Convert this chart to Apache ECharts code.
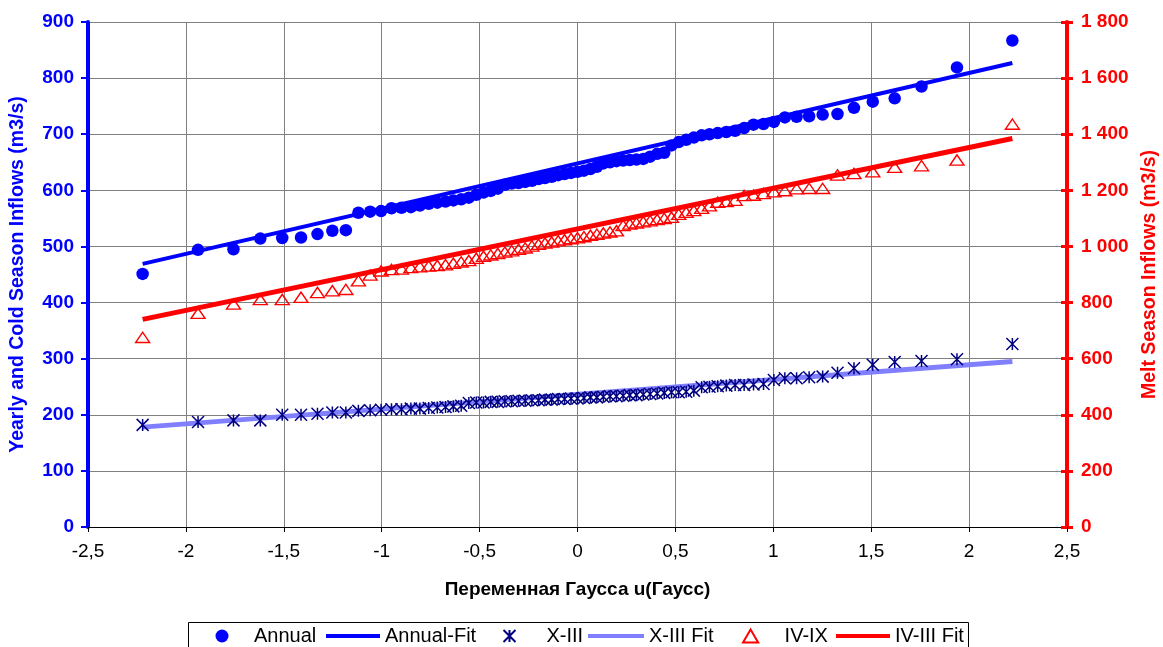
<!DOCTYPE html>
<html>
<head>
<meta charset="utf-8">
<script src="https://cdn.jsdelivr.net/npm/echarts@6/dist/echarts.min.js"></script>
<style>
html,body{margin:0;padding:0;background:#fff;}
#chart{width:1163px;height:647px;}
</style>
</head>
<body>
<div id="chart"></div>
<script>
// Gauss variable (plotting positions)
const uValues = [-2.221,-1.938,-1.757,-1.620,-1.508,-1.412,-1.328,-1.252,-1.183,-1.119,-1.059,-1.003,-0.950,-0.899,-0.851,-0.805,-0.760,-0.716,-0.674,-0.634,-0.594,-0.555,-0.517,-0.480,-0.443,-0.407,-0.371,-0.336,-0.301,-0.267,-0.233,-0.199,-0.166,-0.132,-0.099,-0.066,-0.033,0,
0.033,0.066,0.099,0.132,0.166,0.199,0.233,0.267,0.301,0.336,0.371,0.407,0.443,0.480,0.517,0.555,0.594,0.634,0.674,0.716,0.760,0.805,0.851,0.899,0.950,1.003,1.059,1.119,1.183,1.252,1.328,1.412,1.508,1.620,1.757,1.938,2.221];
const annual = [451,494,495,514,515,516,522,528,529,560,562,563,568,569,570,573,576,578,580,582,584,587,592,596,599,603,610,612,613,615,617,620,622,624,627,629,631,633,635,638,642,648,650,652,653,654,655,656,660,665,667,680,686,690,694,698,700,702,704,706,711,717,718,722,730,731,732,735,736,747,758,764,785,819,867];
const xiii = [182,187,190,190,200,200,202,204,204,207,208,209,210,210,211,211,212,213,214,215,216,221,222,222,223,223,224,224,225,225,226,226,227,227,228,228,229,229,230,231,231,232,233,233,234,235,235,236,237,238,239,240,240,241,243,249,250,251,252,253,253,254,255,262,265,265,267,268,275,283,289,294,296,299,326];
const ivix = [676,762,795,811,811,819,836,842,847,878,898,913,918,920,925,928,930,932,935,940,945,950,958,965,970,975,980,985,990,995,1002,1008,1012,1016,1020,1024,1028,1031,1035,1040,1044,1048,1052,1056,1075,1080,1084,1088,1092,1096,1100,1104,1115,1122,1128,1136,1145,1158,1160,1165,1182,1183,1189,1195,1199,1206,1207,1207,1255,1260,1266,1282,1288,1308,1436];
// Fitted lines (end points)
const fitU = [-2.221, 2.221];
const annualFit = [469, 827];
const xiiiFit = [178, 295];
const ivFit = [740, 1385];

const seriesNames = ['Annual','Annual-Fit','X-III','X-III Fit','IV-IX','IV-III Fit'];
const xAxisTitle = 'Переменная Гаусса u(Гаусс)';
const yLeftTitle = 'Yearly and Cold Season Inflows (m3/s)';
const yRightTitle = 'Melt Season Inflows (m3/s)';

const FONT = 'Liberation Sans, Arial, sans-serif';
const zip = (xs, ys) => xs.map((x, i) => [x, ys[i]]);
const starPath = 'path://M0,0L12,12M12,0L0,12M6,0L6,12';
const triPath = 'path://M7,0L14,12L0,12Z';

const chart = echarts.init(document.getElementById('chart'), null, {renderer: 'canvas'});

const LEG_TOP = 626;
function legendAt(name, left, w, h, icon) {
  return {
    data: [icon ? {name: name, icon: icon} : name],
    left: left, top: LEG_TOP, padding: 0, itemWidth: w, itemHeight: h, itemGap: 0,
    selectedMode: false,
    textStyle: {fontFamily: FONT, fontSize: 20, color: '#000'}
  };
}

const option = {
  animation: false,
  backgroundColor: '#fff',
  grid: {left: 88, right: 96, top: 22, bottom: 120, containLabel: false, outerBoundsMode: 'none'},
  legend: [
    legendAt('Annual', 215.5, 54, 13),
    legendAt('Annual-Fit', 326, 54, 4, 'rect'),
    legendAt('X-III', 501, 64, 12),
    legendAt('X-III Fit', 588, 56, 4, 'rect'),
    legendAt('IV-IX', 742, 58, 13),
    legendAt('IV-III Fit', 836, 54, 4, 'rect')
  ],
  graphic: [{
    type: 'rect', left: 188, top: 622, z: -1,
    shape: {width: 780, height: 40},
    style: {fill: '#fff', stroke: '#000', lineWidth: 1}
  }],
  xAxis: {
    type: 'value', min: -2.5, max: 2.5, interval: 0.5,
    name: xAxisTitle, nameLocation: 'middle', nameGap: 53,
    nameTextStyle: {fontFamily: FONT, fontSize: 19, fontWeight: 'bold', color: '#000'},
    axisLine: {onZero: false, lineStyle: {color: '#000', width: 1}},
    axisTick: {show: true, inside: false, length: 5, lineStyle: {color: '#000'}},
    axisLabel: {fontFamily: FONT, fontSize: 19, color: '#000', margin: 15,
      formatter: v => String(v).replace('.', ',')},
    splitLine: {show: true, lineStyle: {color: '#808080', width: 1}}
  },
  yAxis: [
    {
      type: 'value', min: 0, max: 900, interval: 100, position: 'left',
      name: yLeftTitle, nameLocation: 'middle', nameGap: 60, nameRotate: 90,
      nameTextStyle: {fontFamily: FONT, fontSize: 19.5, fontWeight: 'bold', color: '#0000FF'},
      axisLine: {show: true, onZero: false, lineStyle: {color: '#0000FF', width: 4}},
      axisTick: {show: true, inside: false, length: 7, lineStyle: {color: '#0000FF', width: 2}},
      axisLabel: {fontFamily: FONT, fontSize: 19, fontWeight: 'bold', color: '#0000FF', margin: 14},
      splitLine: {show: true, lineStyle: {color: '#808080', width: 1}}
    },
    {
      type: 'value', min: 0, max: 1800, interval: 200, position: 'right',
      name: yRightTitle, nameLocation: 'middle', nameGap: 72, nameRotate: 90,
      nameTextStyle: {fontFamily: FONT, fontSize: 19.5, fontWeight: 'bold', color: '#FF0000'},
      axisLine: {show: true, onZero: false, lineStyle: {color: '#FF0000', width: 4}},
      axisTick: {show: true, inside: false, length: 6, lineStyle: {color: '#FF0000', width: 3}},
      axisLabel: {fontFamily: FONT, fontSize: 19, fontWeight: 'bold', color: '#FF0000', margin: 14,
        formatter: v => String(v).replace(/\B(?=(\d{3})+(?!\d))/g, ' ')},
      splitLine: {show: false}
    },
    {
      type: 'value', min: 0, max: 1800, interval: 200, position: 'right', offset: 0,
      axisLine: {show: false, onZero: false},
      axisTick: {show: true, inside: true, length: 6, lineStyle: {color: '#FF0000', width: 3}},
      axisLabel: {show: false},
      splitLine: {show: false}
    }
  ],
  series: [
    {
      name: seriesNames[0], type: 'scatter', yAxisIndex: 0, z: 5,
      symbol: 'circle', symbolSize: 12.5,
      itemStyle: {color: '#0000FF', opacity: 1},
      data: zip(uValues, annual)
    },
    {
      name: seriesNames[1], type: 'line', yAxisIndex: 0, z: 3, symbol: 'none',
      lineStyle: {color: '#0000FF', width: 4},
      itemStyle: {color: '#0000FF'},
      data: zip(fitU, annualFit)
    },
    {
      name: seriesNames[2], type: 'scatter', yAxisIndex: 0, z: 5,
      symbol: starPath, symbolSize: 12, symbolKeepAspect: true,
      itemStyle: {color: 'none', borderColor: '#000080', borderWidth: 1.5, opacity: 1},
      data: zip(uValues, xiii)
    },
    {
      name: seriesNames[3], type: 'line', yAxisIndex: 0, z: 3, symbol: 'none',
      lineStyle: {color: '#8080FF', width: 5},
      itemStyle: {color: '#8080FF'},
      data: zip(fitU, xiiiFit)
    },
    {
      name: seriesNames[4], type: 'scatter', yAxisIndex: 1, z: 5,
      symbol: triPath, symbolSize: [14, 12], symbolKeepAspect: true,
      itemStyle: {color: 'rgba(255,255,255,0)', borderColor: '#FF0000', borderWidth: 1.4, opacity: 1},
      data: zip(uValues, ivix)
    },
    {
      name: seriesNames[5], type: 'line', yAxisIndex: 1, z: 3, symbol: 'none',
      lineStyle: {color: '#FF0000', width: 5},
      itemStyle: {color: '#FF0000'},
      data: zip(fitU, ivFit)
    }
  ]
};
chart.setOption(option);
</script>
</body>
</html>
